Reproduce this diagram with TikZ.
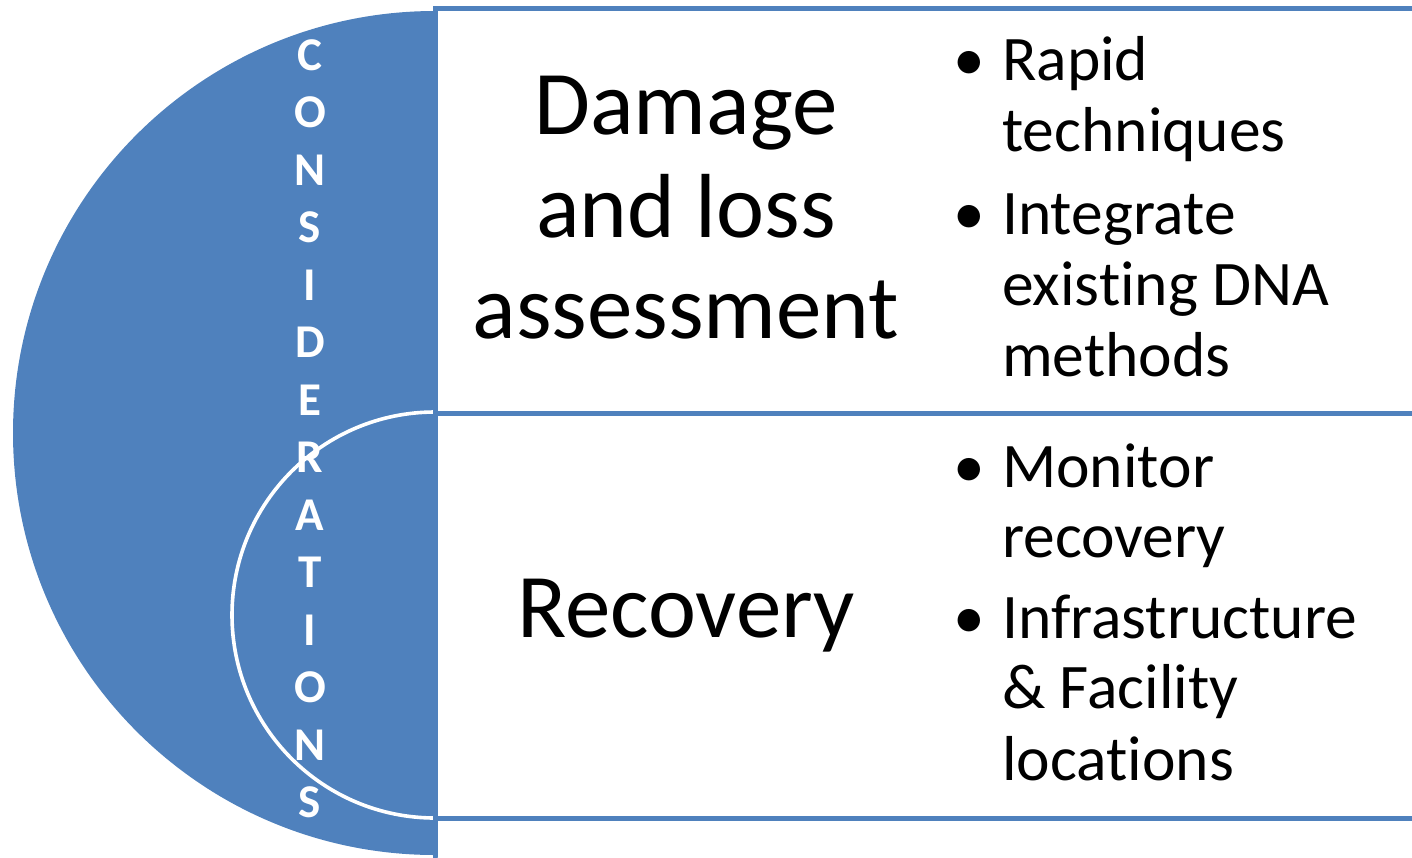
\documentclass[tikz,border=0pt]{standalone}
\usepackage{fontspec}
\setmainfont{Carlito}[Ligatures={NoCommon,NoContextual},RawFeature={-liga;-clig;-dlig}]
\definecolor{offblue}{HTML}{4F81BD}
\begin{document}
\begin{tikzpicture}[x=1pt,y=-1pt,
  vlet/.style={text=white,font=\fontsize{47}{47}\selectfont\bfseries,anchor=base,inner sep=0pt},
  mainline/.style={font=\fontsize{91}{102}\selectfont,anchor=base,inner sep=0pt},
  itemline/.style={font=\fontsize{63.5}{70}\selectfont,anchor=base west,inner sep=0pt},
  bul/.style={font=\fontsize{63.5}{70}\selectfont,anchor=base,inner sep=0pt},
  frame/.style={draw=offblue,line width=5pt}]
\useasboundingbox (0,0) rectangle (1412,857);
% half disc
\fill[offblue] (435,11) arc[start angle=90,end angle=270,radius=422pt] -- cycle;
% white inner arc
\draw[white,line width=3.6pt] (435,412) arc[start angle=90,end angle=270,radius=203pt];
% frame lines
\draw[frame,line cap=round] (435,857) -- (435,8) -- (1412,8);
\draw[frame] (435,413) -- (1412,413);
\draw[frame] (435,818) -- (1412,818);
% vertical word
\foreach \l [count=\i from 0] in {C,O,N,S,I,D,E,R,A,T,I,O,N,S}{
  \node[vlet] (v\i) at (310,{70+57.5*\i}) {\l};
}
% main labels
\node[mainline] (d1) at (686,134) {Damage};
\node[mainline] (d2) at (686,237) {and loss};
\node[mainline] (d3) at (686,338) {assessment};
\node[mainline] (rc) at (686,637) {Recovery};
% bullets top
\node[bul] (b1) at (969,80) {•};
\node[itemline] (t1) at (1002,80) {Rapid};
\node[itemline] (t2) at (1002,151) {techniques};
\node[bul] (b2) at (969,234) {•};
\node[itemline] (t3) at (1002,234) {Integrate};
\node[itemline] (t4) at (1002,305) {existing DNA};
\node[itemline] (t5) at (1002,376) {methods};
% bullets bottom
\node[bul] (b3) at (969,487) {•};
\node[itemline] (r1) at (1002,487) {Monitor};
\node[itemline] (r2) at (1002,557) {recovery};
\node[bul] (b4) at (969,638) {•};
\node[itemline] (r3) at (1002,638) {Infrastructure};
\node[itemline] (r4) at (1002,708) {\& Facility};
\node[itemline] (r5) at (1002,780) {locations};
\end{tikzpicture}
\end{document}
